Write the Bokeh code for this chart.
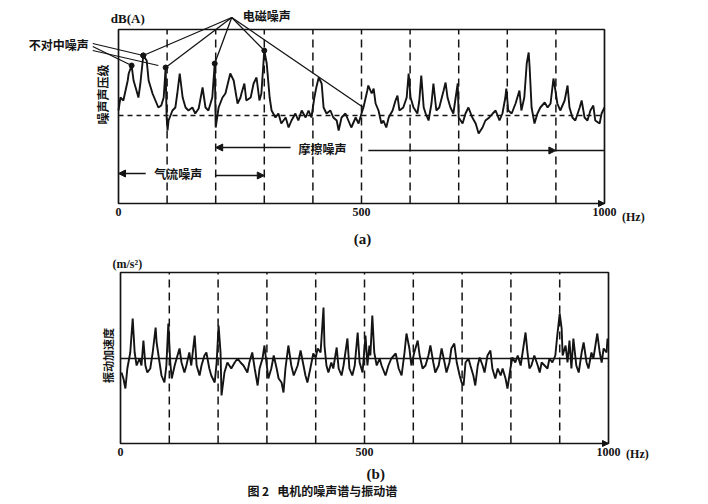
import math
from bokeh.plotting import figure
from bokeh.layouts import column
from bokeh.models import Range1d, FixedTicker, Label, Arrow, NormalHead
from bokeh.embed import file_html
from bokeh.resources import INLINE

# ---------------- data ----------------
# (a) noise spectrum: frequency (Hz) and relative sound pressure level
noise_freq = [0, 4, 10, 19, 21, 27, 31, 37, 41, 45, 51, 58, 62, 70, 76, 82, 88, 93, 97, 99,
              101, 103, 111, 117, 121, 126, 132, 138, 144, 152, 158, 165, 173, 179, 185, 193, 198, 200, 206, 214,
              220, 230, 237, 245, 251, 253, 259, 263, 272, 278, 284, 290, 294, 300, 305, 311, 315, 323, 329, 335,
              344, 350, 356, 364, 370, 377, 385, 391, 397, 403, 407, 412, 418, 422, 428, 436, 442, 449, 453, 459,
              467, 473, 479, 488, 494, 500, 504, 512, 514, 521, 525, 529, 535, 541, 545, 551, 556, 564, 570, 574,
              578, 586, 593, 597, 601, 607, 615, 619, 623, 628, 632, 638, 644, 648, 654, 660, 669, 673, 677, 683,
              689, 698, 700, 708, 714, 720, 728, 735, 741, 749, 755, 763, 770, 776, 784, 790, 796, 798, 802, 809,
              817, 825, 829, 835, 840, 844, 846, 850, 856, 862, 868, 877, 883, 889, 895, 899, 903, 909, 918, 924,
              928, 934, 940, 949, 953, 959, 965, 971, 977, 981, 990, 994, 1000]
noise_level = [93, 106, 103, 123, 130, 138, 123, 113, 106, 120, 148, 143, 123, 110, 103, 96, 98, 106, 136, 86,
               73, 83, 93, 96, 110, 130, 106, 96, 93, 96, 90, 95, 116, 96, 93, 106, 140, 76, 96, 106,
               110, 130, 123, 100, 106, 110, 120, 103, 106, 120, 126, 103, 110, 153, 140, 106, 93, 86, 90, 80,
               86, 76, 83, 90, 83, 93, 86, 93, 86, 106, 116, 126, 120, 96, 90, 93, 86, 83, 73, 86,
               90, 83, 76, 86, 80, 90, 96, 113, 118, 110, 115, 100, 93, 80, 83, 76, 86, 93, 103, 108,
               93, 96, 106, 130, 106, 96, 90, 103, 128, 96, 90, 83, 100, 120, 93, 96, 113, 121, 106, 96,
               90, 120, 86, 80, 90, 96, 86, 80, 70, 76, 83, 86, 90, 93, 83, 90, 106, 115, 93, 90,
               100, 113, 93, 106, 140, 151, 136, 96, 80, 90, 96, 101, 96, 100, 125, 113, 100, 93, 103, 118,
               96, 86, 83, 96, 103, 86, 83, 93, 98, 83, 80, 90, 96]

# (b) vibration spectrum: frequency (Hz) and relative acceleration
vib_freq = [2, 6, 10, 14, 20, 25, 29, 33, 39, 43, 47, 51, 55, 61, 66, 72, 74, 80, 84, 90,
            94, 98, 102, 105, 111, 115, 121, 125, 131, 135, 141, 145, 152, 156, 162, 166, 172, 176, 182, 186,
            193, 197, 201, 205, 207, 213, 219, 227, 234, 240, 246, 252, 260, 264, 270, 275, 281, 285, 291, 295,
            299, 303, 309, 314, 320, 324, 330, 334, 338, 344, 350, 355, 363, 369, 375, 379, 383, 389, 395, 400,
            404, 410, 416, 418, 422, 426, 432, 436, 443, 447, 453, 457, 465, 469, 475, 480, 486, 490, 496, 502,
            506, 510, 512, 516, 520, 525, 531, 535, 543, 549, 555, 564, 570, 576, 582, 586, 592, 596, 602, 609,
            613, 619, 625, 631, 635, 641, 645, 652, 658, 664, 668, 674, 678, 684, 689, 695, 699, 703, 707, 713,
            717, 723, 727, 732, 736, 742, 746, 752, 758, 762, 768, 773, 779, 783, 789, 793, 799, 803, 809, 814,
            820, 824, 830, 834, 838, 842, 848, 855, 859, 863, 869, 875, 879, 885, 891, 895, 900, 904, 906, 912,
            916, 920, 924, 928, 934, 939, 945, 949, 955, 959, 965, 969, 977, 982, 986, 990, 996, 998]
vib_level = [71, 65, 55, 75, 91, 125, 91, 78, 85, 78, 103, 78, 71, 75, 91, 116, 101, 81, 68, 61,
             78, 120, 81, 65, 78, 85, 95, 81, 71, 78, 91, 78, 108, 78, 68, 78, 88, 91, 75, 68,
             61, 81, 118, 91, 48, 71, 81, 75, 81, 85, 81, 78, 71, 81, 91, 75, 58, 75, 85, 98,
             81, 65, 75, 88, 75, 65, 61, 51, 75, 98, 78, 68, 78, 93, 78, 68, 61, 75, 90, 86,
             95, 91, 136, 98, 78, 71, 81, 75, 96, 75, 68, 78, 105, 75, 68, 78, 111, 81, 71, 108,
             78, 98, 88, 128, 91, 78, 85, 78, 68, 78, 85, 90, 75, 68, 91, 110, 95, 78, 91, 103,
             88, 75, 78, 88, 98, 81, 71, 78, 95, 81, 71, 81, 95, 100, 81, 68, 61, 58, 81, 85,
             78, 68, 58, 78, 86, 78, 71, 88, 93, 75, 65, 75, 68, 75, 65, 55, 75, 86, 81, 88,
             78, 91, 111, 91, 75, 78, 88, 78, 71, 81, 78, 75, 85, 81, 88, 108, 130, 115, 88, 98,
             81, 103, 75, 105, 78, 71, 91, 101, 81, 75, 91, 85, 110, 91, 81, 95, 91, 105]

freq_span = [0, 1000]
freq_ticks = [0, 500, 1000]
grid_freqs = [100, 200, 300, 400, 500, 600, 700, 800, 900]
noise_top, vib_top = 174, 171          # height of each panel's box (level units)
noise_baseline = 88
vib_baseline = 85

# noise-source bands (Hz)
friction_band = [200, 900, 1000]
airflow_band = [0, 200, 300]
# peaks pointed at by the callouts (Hz)
em_peaks = [51, 97, 198, 300, 504]
misalign_peaks = [51, 27]

CJK = "Noto Sans CJK SC"
SERIF = "Liberation Serif"
INK = "#141414"
W = 706
NB = "\u00a0"


def make_fig(h, xr, yr, box_top, baseline, base_dash):
    p = figure(frame_width=W, frame_height=h, min_border=0,
               x_range=Range1d(*xr), y_range=Range1d(*yr),
               output_backend="svg", toolbar_location=None)
    p.xgrid.visible = False
    p.ygrid.visible = False
    p.yaxis.visible = False
    p.outline_line_color = None
    p.background_fill_color = "white"
    p.border_fill_color = "white"
    ax = p.xaxis[0]
    ax.fixed_location = 0
    ax.ticker = FixedTicker(ticks=freq_ticks)
    ax.axis_line_color = None
    ax.major_tick_line_color = None
    ax.minor_tick_line_color = None
    ax.major_tick_out = 0
    ax.major_tick_in = 0
    ax.major_label_standoff = 4
    ax.major_label_text_font = SERIF
    ax.major_label_text_font_style = "bold"
    ax.major_label_text_font_size = "12px"
    ax.major_label_text_color = INK
    n = len(grid_freqs)
    p.segment(x0=grid_freqs, y0=[0] * n, x1=grid_freqs, y1=[box_top] * n,
              line_color=INK, line_width=1.5, line_dash="8 5")
    p.segment(x0=[freq_span[0]], y0=[baseline], x1=[freq_span[1]], y1=[baseline],
              line_color=INK, line_width=1.4, line_dash=base_dash)
    p.quad(left=[freq_span[0]], right=[freq_span[1]], bottom=[0], top=[box_top],
           fill_color=None, line_color=INK, line_width=1.7)
    p.add_layout(Arrow(x_start=freq_span[1] - 35, y_start=0, x_end=freq_span[1], y_end=0,
                       line_color=INK, line_width=1.2,
                       end=NormalHead(size=6, fill_color=INK, line_color=INK)))
    return p


def lab(p, x, y, text, size="12px", font=CJK, angle=0.0, align="center"):
    p.add_layout(Label(x=x, y=y, text=text, text_font=font, text_font_size=size,
                       text_font_style="bold", text_color=INK, text_align=align,
                       text_baseline="middle", angle=angle))


def arrow(p, x0, y0, x1, y1, with_head=True, width=1.4):
    head = NormalHead(size=7, fill_color=INK, line_color=INK) if with_head else None
    p.add_layout(Arrow(x_start=x0, y_start=y0, x_end=x1, y_end=y1, line_color=INK,
                       line_width=width, end=head))


def level_at(f):
    return noise_level[noise_freq.index(f)]


# ---------------- (a) noise spectrum ----------------
p1 = make_fig(252, (-242.8, 1209.9), (-49, 203), noise_top, noise_baseline, "5 4")
p1.line(noise_freq, noise_level, line_color=INK, line_width=1.9)

# electromagnetic-noise callout
em_levels = [level_at(f) for f in em_peaks]
k = len(em_peaks)
p1.segment(x0=[233] * k, y0=[186] * k, x1=em_peaks, y1=em_levels, line_color=INK, line_width=1.3)
p1.scatter(em_peaks[:4], em_levels[:4], size=5, color=INK)

# misalignment-noise callout
mis_x = misalign_peaks + [82]
mis_y = [level_at(f) for f in misalign_peaks] + [138]
p1.segment(x0=[-53] * 3, y0=[160, 157, 153], x1=mis_x, y1=mis_y, line_color=INK, line_width=1.2)
p1.scatter(mis_x[:2], mis_y[:2], size=5, color=INK)

# friction band arrows
arrow(p1, 354, 56, friction_band[0], 56)
arrow(p1, 514, 53, friction_band[1], 53)
arrow(p1, friction_band[1], 53, friction_band[2], 53, with_head=False)
# airflow band arrows
arrow(p1, 56, 30, airflow_band[0], 30)
arrow(p1, airflow_band[1], 28, airflow_band[2], 28)

lab(p1, 19, 185, "dB(A)", font=SERIF, size="13px")
lab(p1, 305, 188, "电磁噪声")
lab(p1, -123, 159, "不对中噪声")
lab(p1, -33, 109, "噪声声压级", angle=math.pi / 2)
lab(p1, 420, 55, "摩擦噪声")
lab(p1, 123, 30, "气流噪声")
lab(p1, 1036, -13, "(Hz)", font=SERIF, align="left")
lab(p1, 502, -35, "(a)", font=SERIF, size="15px")

# ---------------- (b) vibration spectrum ----------------
p2 = make_fig(250, (-245.9, 1200.8), (-59, 191), vib_top, vib_baseline, "solid")
p2.line(vib_freq, vib_level, line_color=INK, line_width=1.9)

lab(p2, 14, 180, "(m/s²)", font=SERIF, size="12px")
lab(p2, -25, 88, "振动加速度", size="11px", angle=math.pi / 2)
lab(p2, 1036, -10, "(Hz)", font=SERIF, align="left")
lab(p2, 523, -30, "(b)", font=SERIF, size="15px")
lab(p2, 260, -47, "图" + NB + "2" + NB * 3 + "电机的噪声谱与振动谱", size="12px", align="left")

layout = column(p1, p2, spacing=0)
open("out.html", "w").write(file_html(layout, INLINE))
